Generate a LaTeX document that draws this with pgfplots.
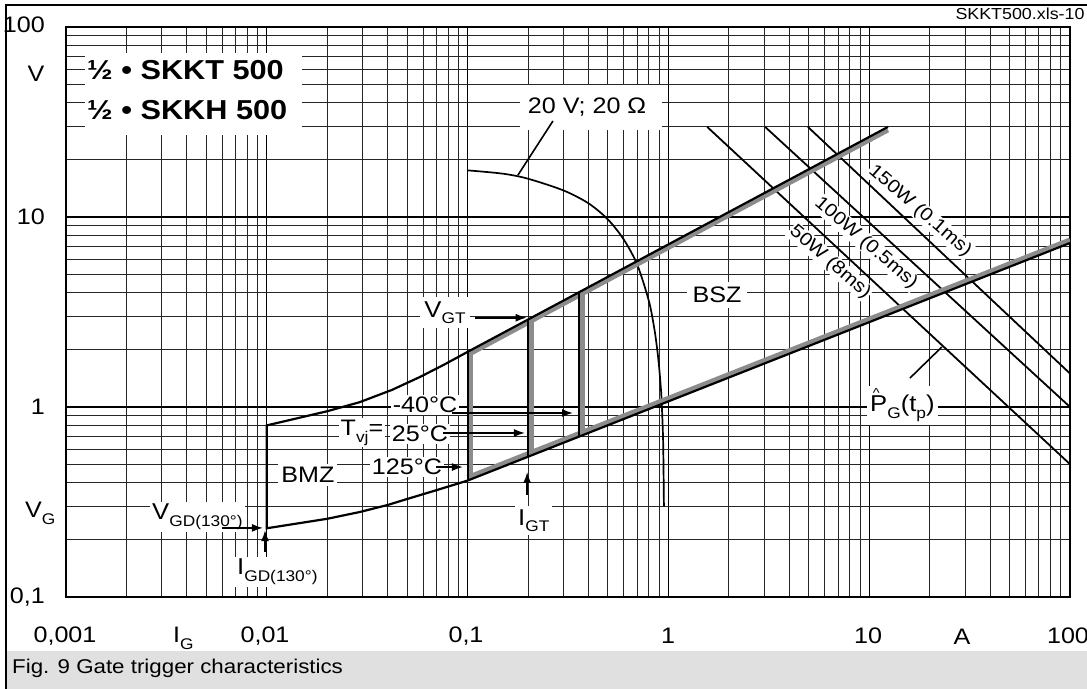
\documentclass[border=0pt]{standalone}
\usepackage{fontspec}
\setmainfont{Liberation Sans}[FakeStretch=1.12]
\usepackage{pgfplots}
\pgfplotsset{compat=1.18}
\usetikzlibrary{arrows.meta}
\newcommand\fs[1]{\fontsize{#1}{#1}\selectfont}
\newcommand\sub[2][0.28em]{\raisebox{-#1}{\fs{15.5}#2}}
\begin{document}
\begin{tikzpicture}[x=1bp,y=1bp, every node/.style={font=\fs{22.5}, inner sep=0pt},
  arr/.style={line width=1.6bp, -{Latex[length=11bp,width=8bp]}}]
\useasboundingbox (0,0) rectangle (1087,689);
\fill[black!12] (7,0) rectangle (1087,38);
\draw[line width=2.4bp] (6,0) -- (6,684) -- (1087,684);
\node[anchor=west, font=\fs{20}] at (12,21) {Fig. 9 Gate trigger characteristics};
\begin{axis}[at={(66bp,92bp)}, anchor=south west, scale only axis,
  width=1004bp, height=570bp,
  xmode=log, ymode=log, xmin=0.001, xmax=100, ymin=0.1, ymax=100,
  xtick={0.001,0.01,0.1,1,10,100}, ytick={0.1,1,10,100},
  minor xtick={0.002,0.003,0.004,0.005,0.006,0.007,0.008,0.009,
    0.02,0.03,0.04,0.05,0.06,0.07,0.08,0.09,
    0.2,0.3,0.4,0.5,0.6,0.7,0.8,0.9,
    2,3,4,5,6,7,8,9,20,30,40,50,60,70,80,90},
  minor ytick={0.2,0.3,0.4,0.5,0.6,0.7,0.8,0.9,2,3,4,5,6,7,8,9,20,30,40,50,60,70,80,90},
  grid=both,
  major grid style={black, line width=1.3bp},
  minor grid style={black!85, line width=1bp},
  xticklabels={}, yticklabels={},
  tick style={draw=none},
  axis line style={line width=2.2bp},
]
% white label boxes
\fill[white] (axis description cs:0.0189,0.8105) rectangle (axis description cs:0.2351,0.9544);
\node[anchor=west, font=\bfseries\fs{27.5}] at (axis description cs:0.0209,0.9246) {½ • SKKT 500};
\node[anchor=west, font=\bfseries\fs{27.5}] at (axis description cs:0.0209,0.8544) {½ • SKKH 500};
\fill[white] (axis description cs:0.4522,0.8193) rectangle (axis description cs:0.5936,0.8982);
\node[font=\fs{22.5}] at (axis description cs:0.519,0.8596) {20 V; 20 Ω};
\node[fill=white, inner xsep=4bp, inner ysep=4bp, font=\fs{23}] at (axis description cs:0.3775,0.4990) {V\sub{GT}};
\node[fill=white, inner xsep=6bp, inner ysep=5bp] at (axis description cs:0.6484,0.5298) {BSZ};
\node[fill=white, inner sep=2bp] at (axis description cs:0.3576,0.3368) {-40°C};
\node[fill=white, inner sep=2bp] at (axis description cs:0.2948,0.2880) {T\sub{vj}=};
\node[fill=white, inner sep=2bp] at (axis description cs:0.3526,0.2860) {25°C};
\node[fill=white, inner sep=2bp] at (axis description cs:0.3396,0.2281) {125°C};
\node[fill=white, inner sep=3bp] at (axis description cs:0.2410,0.2140) {BMZ};
\node[fill=white, inner sep=2bp, anchor=base west, font=\fs{23}] at (axis description cs:0.0837,0.1351) {V\sub{GD(130°)}};
\node[fill=white, inner sep=2bp, anchor=base west, font=\fs{23}] at (axis description cs:0.1683,0.0386) {I\sub{GD(130°)}};
\node[fill=white, inner sep=3bp, anchor=base west, font=\fs{23}] at (axis description cs:0.4472,0.1263) {I\sub{GT}};
\node[fill=white, inner sep=3bp, anchor=base west, font=\fs{23}] at (axis description cs:0.7978,0.3246)
  {\makebox[0pt][l]{\raisebox{0.62em}{\hspace{0.12em}\fs{13}\textasciicircum}}P\sub{G}(t\sub{p})};
\node[fill=white, inner sep=1bp, rotate=-41, font=\fs{18.5}] at (axis description cs:0.8506,0.6772) {150W (0.1ms)};
\node[fill=white, inner sep=1bp, rotate=-41, font=\fs{18.5}] at (axis description cs:0.7968,0.6211) {100W (0.5ms)};
\node[fill=white, inner sep=1bp, rotate=-41, font=\fs{18.5}] at (axis description cs:0.7610,0.5877) {50W (8ms)};
% power hyperbolas
\addplot[black, line width=1.8bp] coordinates {(1.56,29.8) (100,0.5)};
\addplot[black, line width=1.8bp] coordinates {(3.03,29.8) (100,1.0)};
\addplot[black, line width=1.8bp] coordinates {(4.95,29.8) (100,1.5)};
% load line 20 V; 20 Ohm
\addplot[black, line width=1.7bp, smooth] coordinates {
  (0.1,17.6) (0.15,16.9) (0.2,15.9) (0.3,13.8) (0.4,11.8) (0.5,9.7) (0.6,7.6)
  (0.7,5.6) (0.8,3.6) (0.85,2.6) (0.88,2.0) (0.9,1.6) (0.92,1.2) (0.93,0.95)
  (0.94,0.7) (0.945,0.5) (0.95,0.3)};
% grey bands
\addplot[black!45, line width=5bp, transform canvas={yshift=-3bp}] coordinates {(0.1,1.95) (12.4,29.8)};
\addplot[black!45, line width=5bp, transform canvas={yshift=3bp}] coordinates {(0.1,0.41) (100,7.3)};
\addplot[black!45, line width=5bp, transform canvas={xshift=3bp}] coordinates {(0.1,0.42) (0.1,1.93)};
\addplot[black!45, line width=5bp, transform canvas={xshift=3bp}] coordinates {(0.2,0.56) (0.2,2.86)};
\addplot[black!45, line width=5bp, transform canvas={xshift=3bp}] coordinates {(0.36,0.72) (0.36,3.98)};
% boundary curves
\addplot[black, line width=2.2bp] coordinates {
  (12.4,29.8) (0.1,1.95) (0.0755,1.66) (0.058,1.44) (0.042,1.23) (0.029,1.06)
  (0.02,0.95) (0.01,0.8) (0.01,0.23) (0.02,0.258) (0.029,0.28) (0.04,0.305)
  (0.05,0.328) (0.07,0.365) (0.1,0.41) (100,7.3)};
\addplot[black, line width=2.2bp] coordinates {(0.1,0.41) (0.1,1.95)};
\addplot[black, line width=2.2bp] coordinates {(0.2,0.548) (0.2,2.88)};
\addplot[black, line width=2.2bp] coordinates {(0.36,0.70) (0.36,4.02)};
% arrows and leaders
\draw[arr] (axis cs:0.109,2.95) -- (axis cs:0.197,2.95);
\draw[arr] (axis cs:0.0835,0.93) -- (axis cs:0.335,0.93);
\draw[arr] (axis cs:0.0755,0.73) -- (axis cs:0.193,0.73);
\draw[arr] (axis cs:0.0696,0.483) -- (axis cs:0.0948,0.483);
\draw[arr] (axis cs:0.00598,0.231) -- (axis cs:0.00957,0.231);
\draw[arr] (axis cs:0.0098,0.173) -- (axis cs:0.0098,0.225);
\draw[arr] (axis cs:0.198,0.344) -- (axis cs:0.198,0.455);
\draw[line width=1.6bp] (axis cs:0.266,32) -- (axis cs:0.178,16.6);
\draw[line width=1.6bp] (axis cs:15.96,1.42) -- (axis cs:23.0,2.07);
\end{axis}
% tick labels and axis labels
\node[anchor=east] at (45,664) {100};
\node[anchor=east] at (45,472) {10};
\node[anchor=east] at (45,282) {1};
\node[anchor=east] at (45,92) {0,1};
\node at (36,615) {V};
\node[anchor=base west] at (25,171) {V\sub{G}};
\node at (65,53) {0,001};
\node at (265,53) {0,01};
\node at (466,53) {0,1};
\node at (668,53) {1};
\node at (868,53) {10};
\node at (1068,53) {100};
\node[anchor=base west] at (173,46) {I\sub{G}};
\node at (962,52) {A};
\node[font=\fs{16}] at (1020,675) {SKKT500.xls-10};
\end{tikzpicture}
\end{document}
